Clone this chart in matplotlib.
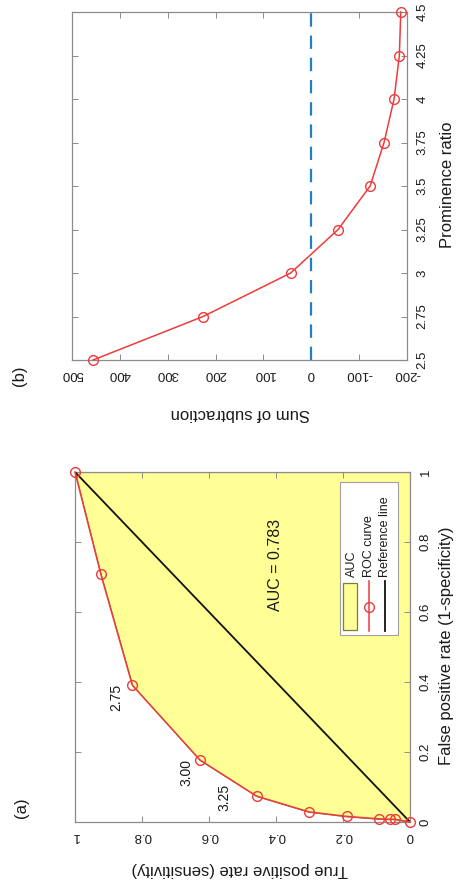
import matplotlib
matplotlib.use("Agg")
import matplotlib.pyplot as plt
from matplotlib.patches import Rectangle
from matplotlib.lines import Line2D

plt.rcParams['font.family'] = ['Liberation Sans', 'DejaVu Sans']

# ---------------- data ----------------
# Panel (a): ROC curve
fpr = [0.0, 0.008, 0.008, 0.009, 0.016, 0.029, 0.074, 0.177, 0.391, 0.708, 1.0]
tpr = [0.0, 0.045, 0.060, 0.093, 0.188, 0.302, 0.458, 0.627, 0.829, 0.923, 1.0]
ref_fpr = [0.0, 1.0]
ref_tpr = [0.0, 1.0]
auc_text = "AUC = 0.783"
point_labels = ["2.75", "3.00", "3.25"]
label_fpr = [0.357, 0.140, 0.070]
label_tpr = [0.878, 0.667, 0.555]
roc_ticks = [0, 0.2, 0.4, 0.6, 0.8, 1]
roc_ticklabels = ["0", "0.2", "0.4", "0.6", "0.8", "1"]

# Panel (b): sum of subtraction vs prominence ratio
ratio = [2.5, 2.75, 3.0, 3.25, 3.5, 3.75, 4.0, 4.25, 4.5]
sum_sub = [456, 226, 43, -56, -123, -152, -173, -184, -187]
ratio_ticks = [2.5, 2.75, 3.0, 3.25, 3.5, 3.75, 4.0, 4.25, 4.5]
ratio_ticklabels = ["2.5", "2.75", "3", "3.25", "3.5", "3.75", "4", "4.25", "4.5"]
sum_ticks = [-200, -100, 0, 100, 200, 300, 400, 500]
sum_ticklabels = ["-200", "-100", "0", "100", "200", "300", "400", "500"]
zero_level = 0

# ---------------- style ----------------
W, H = 457, 890
RED = '#EE3B3B'
YELLOW = '#FFFF96'
OLIVE = '#7d7d3a'
SPINE = '#8c8c8c'
TXT = '#1a1a1a'
TICK_FS = 9.5
LABEL_FS = 12

fig = plt.figure(figsize=(W / 100, H / 100), dpi=100)


def px_axes(x0, y0, x1, y1):
    return fig.add_axes([x0 / W, 1 - y1 / H, (x1 - x0) / W, (y1 - y0) / H])


def style(ax):
    for s in ax.spines.values():
        s.set_color(SPINE)
        s.set_linewidth(0.9)
    ax.tick_params(direction='in', length=4, width=0.7, color=SPINE,
                   top=True, right=True, bottom=True, left=True,
                   labelbottom=True, labelleft=False, labelright=True, labeltop=False,
                   labelsize=TICK_FS, labelcolor=TXT)
    ax.tick_params(axis='x', labelrotation=180, pad=6)
    ax.tick_params(axis='y', labelrotation=90, pad=7)
    for lab in ax.get_yticklabels(which='both'):
        lab.set_va('center')
        lab.set_ha('left')


# ---------------- panel (a) ----------------
axa = px_axes(75, 472, 410, 822)
axa.set_xlim(1, 0)
axa.set_ylim(0, 1)
axa.fill_betweenx(fpr, tpr, 0, facecolor=YELLOW, edgecolor=OLIVE, linewidth=0.8, zorder=1)
axa.plot(ref_tpr, ref_fpr, color='#111111', lw=1.3, zorder=3)
axa.plot(tpr, fpr, color=RED, lw=1.1, marker='o', ms=7, mfc='none', mec=RED, mew=1.0,
         zorder=4, clip_on=False)
for t, xv, yv in zip(point_labels, label_tpr, label_fpr):
    axa.text(xv, yv, t, rotation=90, ha='center', va='center', fontsize=10, color=TXT)
axa.text(0.40, 0.734, auc_text, rotation=90, ha='center', va='center', fontsize=11.5, color=TXT)
axa.set_xticks(roc_ticks)
axa.set_xticklabels(roc_ticklabels)
axa.set_yticks(roc_ticks)
axa.set_yticklabels(roc_ticklabels)
style(axa)

# manual rotated legend (data coordinates of panel a)
axa.add_patch(Rectangle((0.036, 0.534), 0.173, 0.437, facecolor='white',
                        edgecolor='#a0a0a0', lw=0.8, zorder=5))
axa.add_patch(Rectangle((0.158, 0.549), 0.042, 0.134, facecolor=YELLOW,
                        edgecolor=OLIVE, lw=0.9, zorder=6))
axa.add_line(Line2D([0.121, 0.121], [0.545, 0.688], color=RED, lw=1.1, zorder=6))
axa.add_line(Line2D([0.121], [0.614], color=RED, marker='o', ms=7, mfc='none',
                    mec=RED, mew=1.0, zorder=6))
axa.add_line(Line2D([0.075, 0.075], [0.545, 0.688], color='#111111', lw=1.3, zorder=6))
for xv, t in zip([0.173, 0.121, 0.075], ["AUC", "ROC curve", "Reference line"]):
    axa.text(xv, 0.70, t, rotation=90, ha='center', va='bottom', fontsize=9, color=TXT, zorder=7)

# ---------------- panel (b) ----------------
axb = px_axes(72, 12, 407, 360)
axb.set_xlim(500, -200)
axb.set_ylim(2.5, 4.5)
axb.axvline(zero_level, color='#1f7fc8', lw=1.6, ls=(0, (6, 4)), zorder=2)
axb.plot(sum_sub, ratio, color=RED, lw=1.1, marker='o', ms=7, mfc='none', mec=RED, mew=1.0,
         zorder=4, clip_on=False)
axb.set_xticks(sum_ticks)
axb.set_xticklabels(sum_ticklabels)
axb.set_yticks(ratio_ticks)
axb.set_yticklabels(ratio_ticklabels)
style(axb)

# ---------------- labels ----------------
def ftext(x, y, s, rot, fs=LABEL_FS):
    fig.text(x / W, 1 - y / H, s, rotation=rot, ha='center', va='center', fontsize=fs, color=TXT)

ftext(447, 646, "False positive rate (1-specificity)", 90)
ftext(240, 870, "True positive rate (sensitivity)", 180)
ftext(447, 185, "Prominence ratio", 90)
ftext(240, 413, "Sum of subtraction", 180)
ftext(21, 808, "(a)", 90)
ftext(20, 376, "(b)", 90)

fig.savefig("out.png", dpi=100)
